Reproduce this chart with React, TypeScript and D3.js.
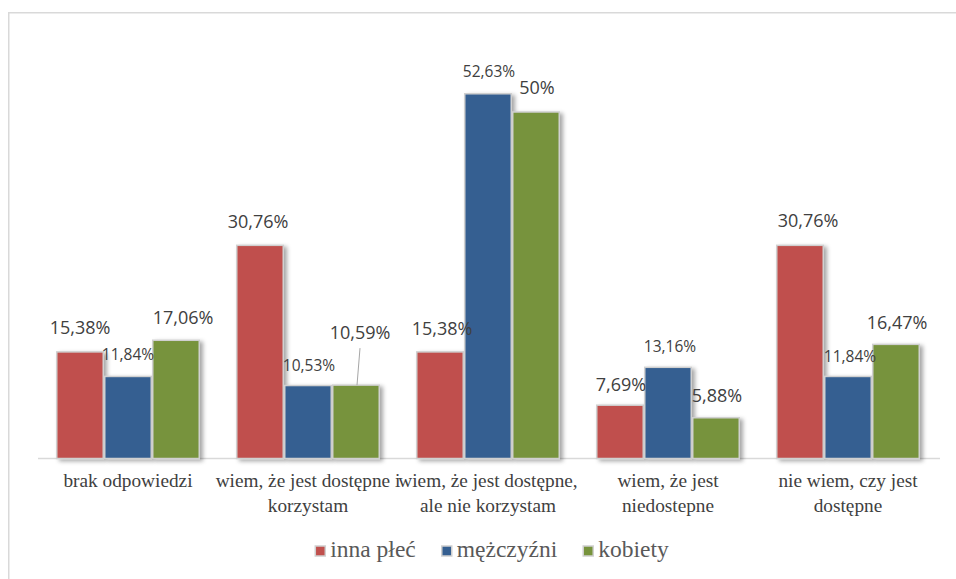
import React from "react";
import * as d3 from "d3";

const categories = [
  "brak odpowiedzi",
  "wiem, że jest dostępne i korzystam",
  "wiem, że jest dostępne, ale nie korzystam",
  "wiem, że jest niedostepne",
  "nie wiem, czy jest dostępne",
];
const categoryLines = [
  ["brak odpowiedzi"],
  ["wiem, że jest dostępne i", "korzystam"],
  ["wiem, że jest dostępne,", "ale nie korzystam"],
  ["wiem, że jest", "niedostepne"],
  ["nie wiem, czy jest", "dostępne"],
];
const seriesNames = ["inna płeć", "mężczyźni", "kobiety"];
const innaPlec = [15.38, 30.76, 15.38, 7.69, 30.76];
const mezczyzni = [11.84, 10.53, 52.63, 13.16, 11.84];
const kobiety = [17.06, 10.59, 50, 5.88, 16.47];
const labelTexts = [
  ["15,38%", "30,76%", "15,38%", "7,69%", "30,76%"],
  ["11,84%", "10,53%", "52,63%", "13,16%", "11,84%"],
  ["17,06%", "10,59%", "50%", "5,88%", "16,47%"],
];

// label placement (style), [series][category] = [dx, dy, fontSize]
const labelPlacement = [
  [[0, -25, 18], [-2, -24, 18], [2, -24, 18], [1, -21, 18], [8, -25, 18]],
  [[0, -22, 15.5], [1, -21, 15.5], [1, -23, 15.5], [2, -21, 15.5], [2, -20, 15.5]],
  [[7, -23, 18], [4, -53, 18], [1, -25, 18], [1, -23, 18], [1, -22, 18]],
];

const colors = ["#C0504D", "#355F91", "#77933C"];
const SERIF = "Liberation Serif";
const SANS = "Open Sans";

const W = 956;
const H = 579;

function textWidth(txt: string, font: string) {
  const c = document.createElement("canvas").getContext("2d");
  if (!c) return txt.length * 10;
  c.font = font;
  return c.measureText(txt).width;
}

export default function App() {
  const series = [innaPlec, mezczyzni, kobiety];
  const x0 = d3.scaleBand<string>().domain(categories).range([38, 938]).paddingInner(0).paddingOuter(0);
  const x1 = d3.scaleBand<number>().domain([0, 1, 2]).range([0, 144]).padding(0);
  const y = d3.scaleLinear().domain([0, 60]).range([458.5, 42.7]);
  const inset = (x0.bandwidth() - 144) / 2;

  const legendSize = 23.5;
  const legendFont = `${legendSize}px "Liberation Serif"`;
  const itemWidths = seriesNames.map((n) => 15 + textWidth(n, legendFont));
  const gap = 26;
  const totalLegend = d3.sum(itemWidths) + gap * (itemWidths.length - 1);
  let lx = 492 - totalLegend / 2;
  const legendX: number[] = [];
  itemWidths.forEach((w) => {
    legendX.push(lx);
    lx += w + gap;
  });

  return (
    <svg width={W} height={H} style={{ position: "absolute", left: 0, top: 0, background: "#fff" }}>
      <defs>
        <filter id="sh" x="-20%" y="-20%" width="150%" height="150%">
          <feDropShadow dx="3" dy="2" stdDeviation="2" floodColor="#000" floodOpacity="0.35" />
        </filter>
      </defs>
      <rect x={0} y={0} width={W} height={H} fill="#fff" />
      <rect x={8.75} y={12.75} width={W + 20} height={H + 20} fill="none" stroke="#d9d9d9" strokeWidth={1.5} />
      <line x1={38} x2={940} y1={458.5} y2={458.5} stroke="#d9d9d9" strokeWidth={1.5} />
      {categories.map((c, ci) => (
        <g key={c}>
          {series.map((vals, si) => {
            const bx = (x0(c) as number) + inset + (x1(si) as number);
            const top = y(vals[ci]);
            return (
              <rect
                key={si}
                x={bx + 0.75}
                y={top}
                width={x1.bandwidth() - 1.5}
                height={y(0) - top}
                fill={colors[si]}
                stroke="#d0d0d0"
                strokeWidth={1.5}
                filter="url(#sh)"
              />
            );
          })}
        </g>
      ))}
      {categories.map((c, ci) =>
        series.map((vals, si) => {
          const cx = (x0(c) as number) + inset + (x1(si) as number) + x1.bandwidth() / 2;
          const top = y(vals[ci]);
          const [dx, dy, fs] = labelPlacement[si][ci];
          const leader = dy < -40;
          return (
            <g key={`${ci}-${si}`}>
              {leader && (
                <line x1={cx + dx} y1={top + dy + 16} x2={cx + 1} y2={top} stroke="#a6a6a6" strokeWidth={1} />
              )}
              <text
                x={cx + dx}
                y={top + dy}
                textAnchor="middle"
                dominantBaseline="central"
                fontFamily={SANS}
                fontSize={fs}
                fill="#404040"
              >
                {labelTexts[si][ci]}
              </text>
            </g>
          );
        })
      )}
      {categories.map((c, ci) => (
        <text
          key={`cat-${ci}`}
          x={(x0(c) as number) + x0.bandwidth() / 2}
          y={487}
          textAnchor="middle"
          fontFamily={SERIF}
          fontSize={19.3}
          fill="#404040"
        >
          {categoryLines[ci].map((ln, li) => (
            <tspan key={li} x={(x0(c) as number) + x0.bandwidth() / 2} dy={li === 0 ? 0 : 24.5}>
              {ln}
            </tspan>
          ))}
        </text>
      ))}
      {seriesNames.map((n, i) => (
        <g key={n}>
          <rect x={legendX[i]} y={546} width={10} height={10} fill={colors[i]} stroke="#d0d0d0" strokeWidth={1.5} />
          <text x={legendX[i] + 15} y={557} fontFamily={SERIF} fontSize={legendSize} fill="#595959">
            {n}
          </text>
        </g>
      ))}
    </svg>
  );
}
